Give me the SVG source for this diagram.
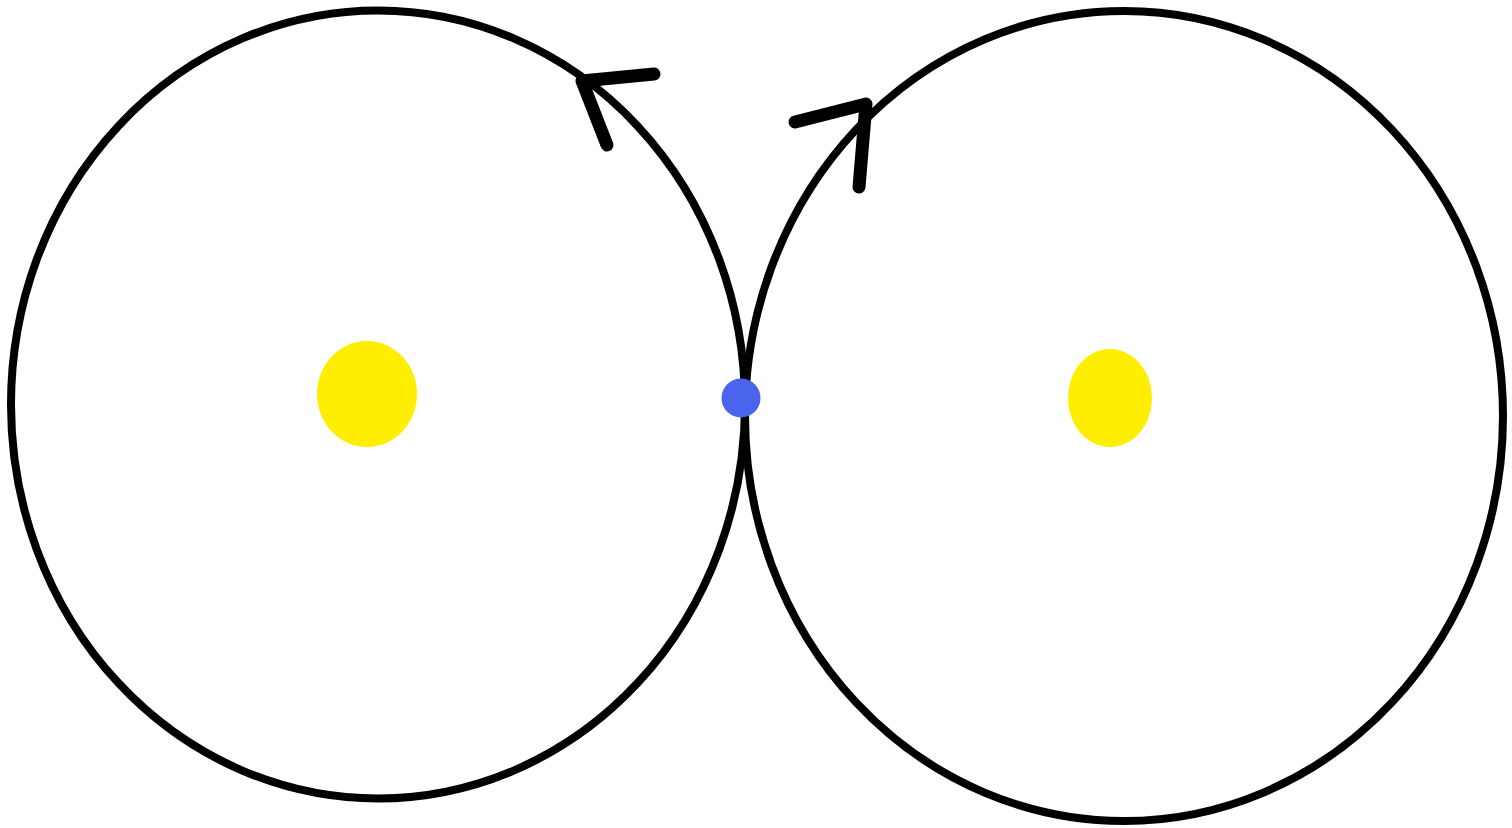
<svg xmlns="http://www.w3.org/2000/svg" width="1512" height="828" viewBox="0 0 1512 828">
<style>
.orbit{fill:none;stroke:#000;stroke-width:8}
.arrow{fill:none;stroke:#000;stroke-width:13;stroke-linecap:round;stroke-linejoin:round}
.sun{fill:#ffee00}
.planet{fill:#4a64ee}
</style>
<rect width="1512" height="828" fill="#fff"/>
<g id="left-orbit"><ellipse class="orbit" cx="378" cy="404.5" rx="367" ry="394"/></g>
<g id="right-orbit"><ellipse class="orbit" cx="1124" cy="416" rx="379" ry="405"/></g>
<g id="left-sun"><ellipse class="sun" cx="367" cy="394" rx="50" ry="53"/></g>
<g id="right-sun"><ellipse class="sun" cx="1110" cy="398" rx="42" ry="49"/></g>
<g id="planet"><circle class="planet" cx="741" cy="398" r="19.5"/></g>
<g id="connectors">
<path class="arrow" d="M654,74 L582,81 L607,145"/>
<path class="arrow" d="M795,122 L866,104 L859,187"/>
</g>
</svg>
